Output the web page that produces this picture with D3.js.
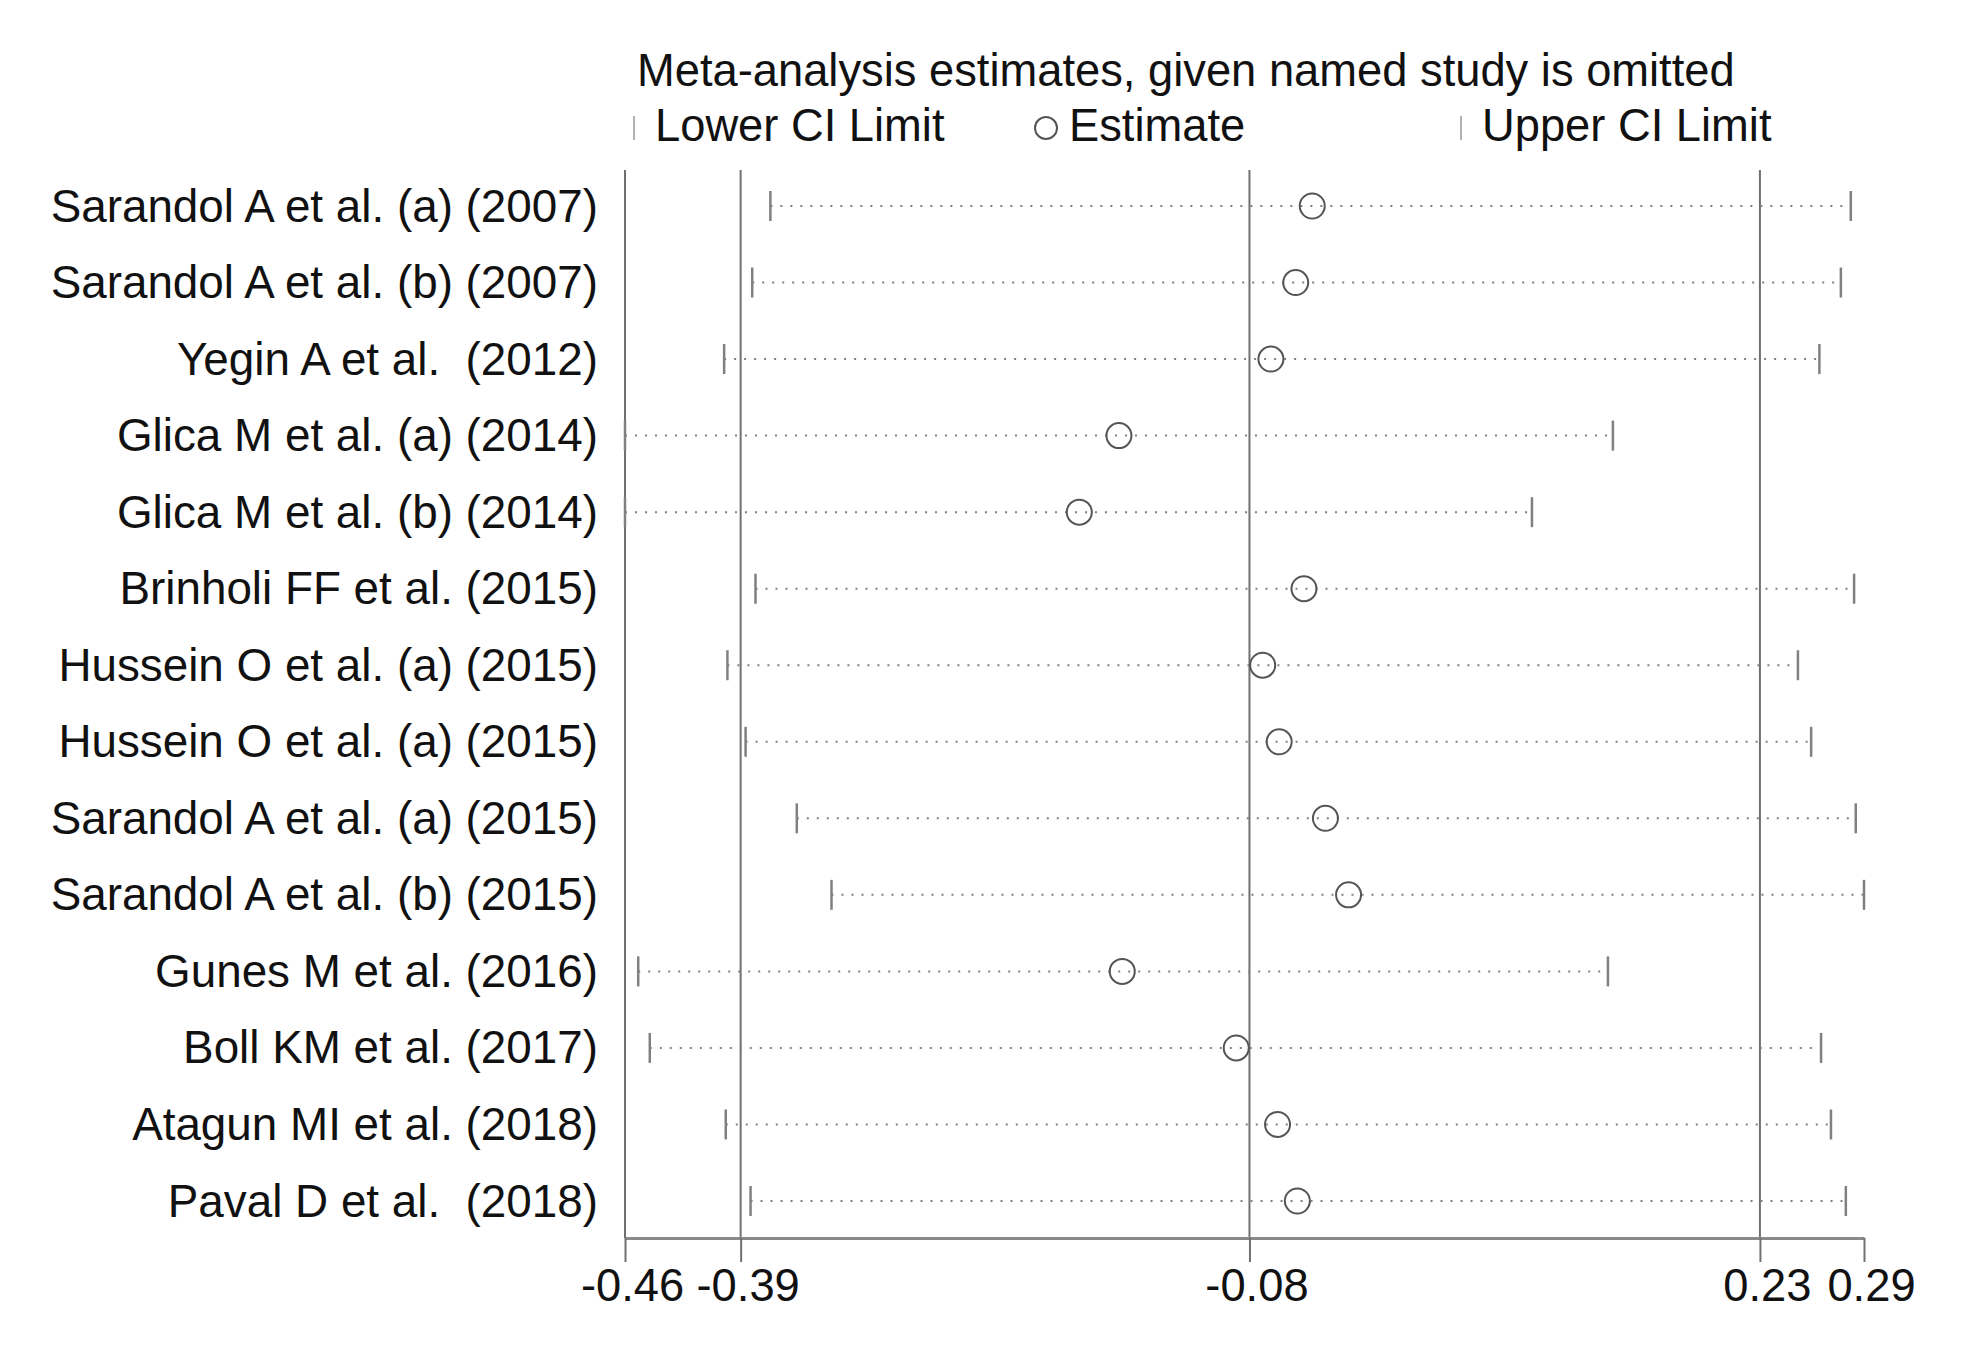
<!DOCTYPE html>
<html>
<head>
  <meta charset="utf-8">
  <title>Meta-analysis influence</title>
  <style type="text/css">
body{
  margin: 0;
  background: #fff;
}
text{
  font-family: "Liberation Sans", Arial, sans-serif;
  fill: #111;
}
  </style>
</head>
<body>
<div id="chartContainer"></div>
<script src="https://cdn.jsdelivr.net/npm/d3@7"></script>
<script type="text/javascript">
// study labels, top to bottom
var studies = [
  "Sarandol A et al. (a) (2007)",
  "Sarandol A et al. (b) (2007)",
  "Yegin A et al.  (2012)",
  "Glica M et al. (a) (2014)",
  "Glica M et al. (b) (2014)",
  "Brinholi FF et al. (2015)",
  "Hussein O et al. (a) (2015)",
  "Hussein O et al. (a) (2015)",
  "Sarandol A et al. (a) (2015)",
  "Sarandol A et al. (b) (2015)",
  "Gunes M et al. (2016)",
  "Boll KM et al. (2017)",
  "Atagun MI et al. (2018)",
  "Paval D et al.  (2018)"
];
// pooled estimate when the named study is left out
var estimate = [-0.044, -0.054, -0.069, -0.161, -0.185, -0.049, -0.074,
                -0.064, -0.036, -0.022, -0.159, -0.090, -0.065, -0.053];
var lowerCI  = [-0.372, -0.383, -0.400, -0.460, -0.460, -0.381, -0.398,
                -0.387, -0.356, -0.335, -0.452, -0.445, -0.399, -0.384];
var upperCI  = [0.282, 0.276, 0.263, 0.138, 0.089, 0.284, 0.250,
                0.258, 0.285, 0.290, 0.135, 0.264, 0.270, 0.279];
// overall lower CI, estimate, upper CI (vertical lines)
var refValues = [-0.390, -0.082, 0.227];
var xTicks = [-0.46, -0.39, -0.082, 0.227, 0.29];

var W = 1976, H = 1363;
var svg = d3.select("#chartContainer").append("svg")
    .attr("width", W)
    .attr("height", H);

var x = d3.scaleLinear().domain([-0.46, 0.29]).range([625, 1864]);
var y = d3.scalePoint().domain(d3.range(studies.length)).range([206, 1201]);
var plotTop = 170, axisY = 1238;
var grey = "#808080";
var fmt = d3.format(".2f");

// title + legend
svg.append("text")
   .attr("x", 637).attr("y", 86)
   .style("font-size", "45.3px")
   .text("Meta-analysis estimates, given named study is omitted");

var legY = 128;
var legend = [
  {kind: "cap", x: 634, tx: 655, label: "Lower CI Limit"},
  {kind: "circle", x: 1046, tx: 1069, label: "Estimate"},
  {kind: "cap", x: 1461, tx: 1482, label: "Upper CI Limit"}
];
legend.forEach(function (d) {
  if (d.kind === "cap") {
    svg.append("line")
       .attr("x1", d.x).attr("x2", d.x)
       .attr("y1", legY - 12).attr("y2", legY + 12)
       .attr("stroke", "#999").attr("stroke-width", 1.5);
  } else {
    svg.append("circle")
       .attr("cx", d.x).attr("cy", legY)
       .attr("r", 11)
       .attr("fill", "none")
       .attr("stroke", "#555").attr("stroke-width", 2);
  }
  svg.append("text")
     .attr("x", d.tx).attr("y", legY + 13)
     .style("font-size", "45.3px")
     .text(d.label);
});

// left axis line and overall reference lines
svg.append("line")
   .attr("x1", x(-0.46)).attr("x2", x(-0.46))
   .attr("y1", plotTop).attr("y2", axisY)
   .attr("stroke", "#707070").attr("stroke-width", 2);

svg.selectAll(".refline")
  .data(refValues)
  .enter()
  .append("line")
    .attr("class", "refline")
    .attr("x1", function (d) { return x(d); })
    .attr("x2", function (d) { return x(d); })
    .attr("y1", plotTop).attr("y2", axisY)
    .attr("stroke", "#707070").attr("stroke-width", 2);

// bottom axis
var xAxis = d3.axisBottom(x)
    .tickValues(xTicks)
    .tickFormat(function (d) { return fmt(d).replace("\u2212", "-"); })
    .tickSize(24)
    .tickSizeOuter(0)
    .tickPadding(7);

var gx = svg.append("g")
    .attr("transform", "translate(0," + axisY + ")")
    .call(xAxis);
gx.select(".domain").attr("stroke", "#8a8a8a").attr("stroke-width", 3);
gx.selectAll(".tick line").attr("stroke", "#707070").attr("stroke-width", 2);
gx.selectAll(".tick text")
  .attr("dx", 7)
  .style("font-size", "45.3px")
  .style("font-family", "'Liberation Sans', Arial, sans-serif")
  .attr("fill", "#111");

// study rows
var rows = svg.selectAll(".row")
  .data(studies)
  .enter()
  .append("g")
    .attr("class", "row");

rows.append("text")
    .attr("x", 598)
    .attr("y", function (d, i) { return y(i); })
    .attr("dy", "0.34em")
    .style("text-anchor", "end")
    .style("font-size", "45.8px")
    .style("white-space", "pre")
    .text(function (d) { return d; });

rows.append("line")
    .attr("x1", function (d, i) { return x(lowerCI[i]); })
    .attr("x2", function (d, i) { return x(upperCI[i]); })
    .attr("y1", function (d, i) { return y(i); })
    .attr("y2", function (d, i) { return y(i); })
    .attr("stroke", "#808080")
    .attr("stroke-width", 2)
    .attr("stroke-dasharray", "2,8");

rows.append("line")
    .attr("x1", function (d, i) { return x(lowerCI[i]); })
    .attr("x2", function (d, i) { return x(lowerCI[i]); })
    .attr("y1", function (d, i) { return y(i) - 15; })
    .attr("y2", function (d, i) { return y(i) + 15; })
    .attr("stroke", grey).attr("stroke-width", 2.5);

rows.append("line")
    .attr("x1", function (d, i) { return x(upperCI[i]); })
    .attr("x2", function (d, i) { return x(upperCI[i]); })
    .attr("y1", function (d, i) { return y(i) - 15; })
    .attr("y2", function (d, i) { return y(i) + 15; })
    .attr("stroke", grey).attr("stroke-width", 2.5);

rows.append("circle")
    .attr("cx", function (d, i) { return x(estimate[i]); })
    .attr("cy", function (d, i) { return y(i); })
    .attr("r", 12.5)
    .attr("fill", "none")
    .attr("stroke", "#555")
    .attr("stroke-width", 2);
</script>
</body>
</html>
